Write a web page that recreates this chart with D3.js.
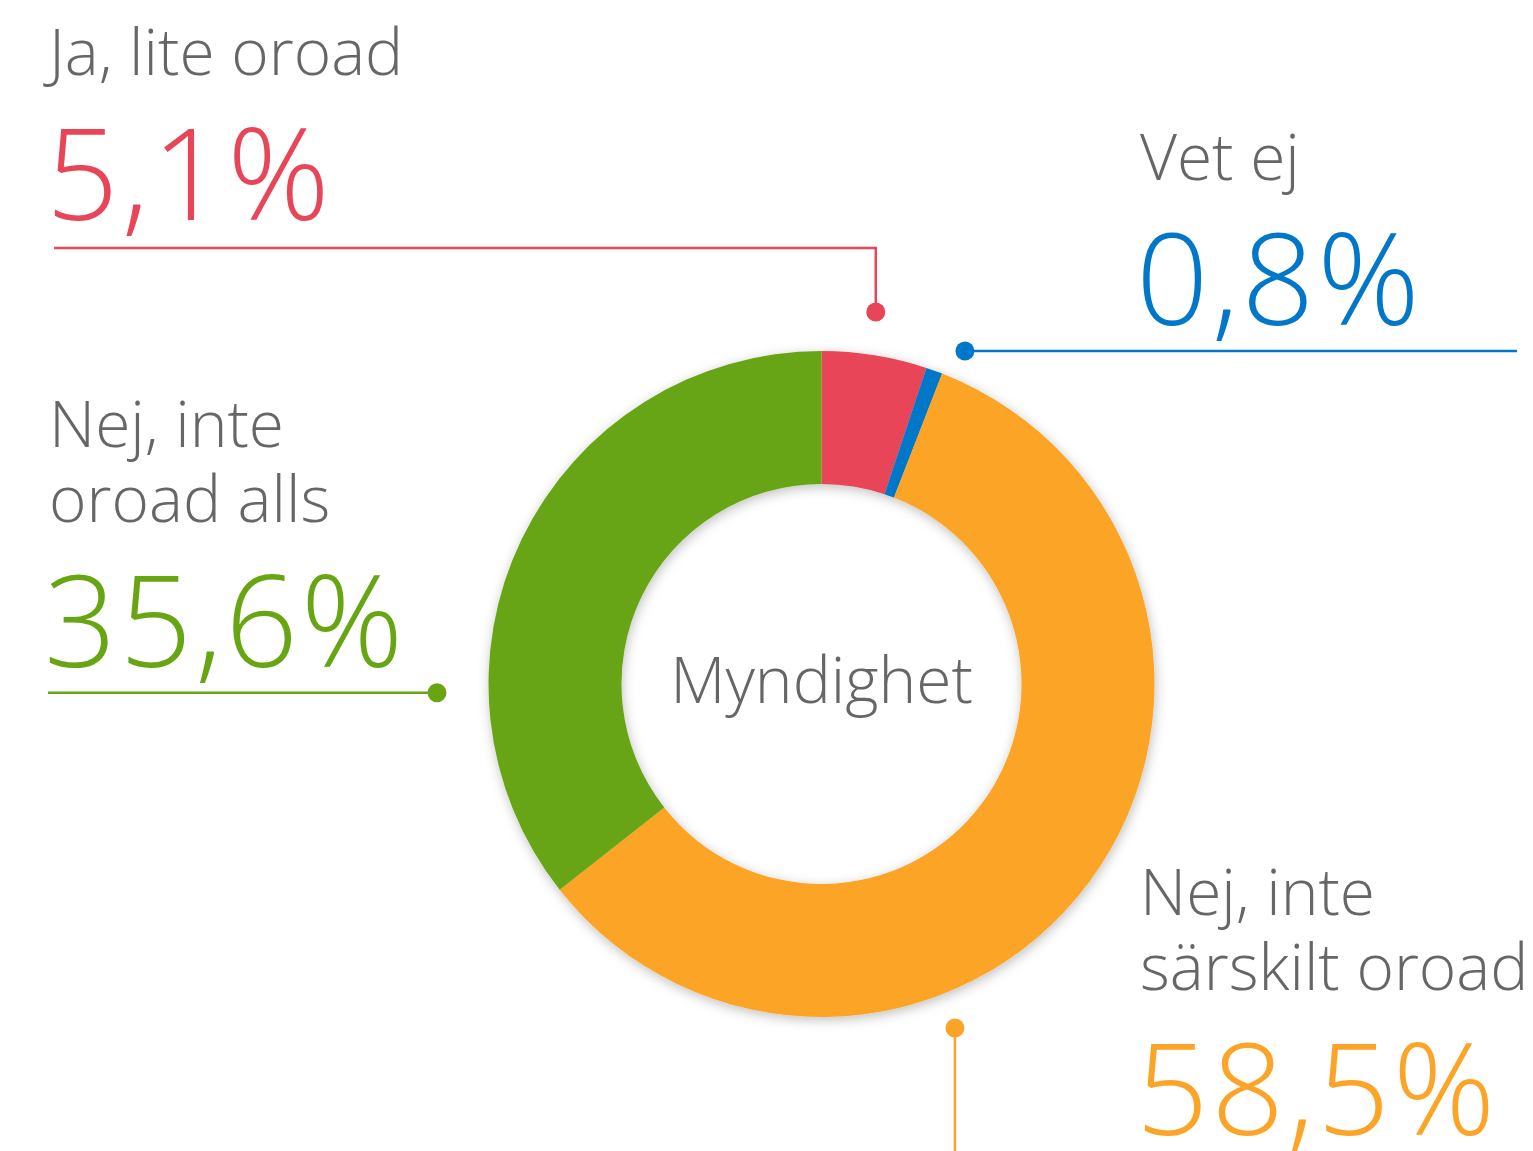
<!DOCTYPE html>
<html lang="sv">
<head>
  <meta charset="UTF-8">
  <title>Myndighet</title>
  <style>
    html, body { margin: 0; padding: 0; background: #fff; }
    svg { display: block; font-family: "Open Sans", sans-serif; font-weight: 300; }
  </style>
</head>
<body>
<svg width="1533" height="1151"></svg>

<script src="https://cdn.jsdelivr.net/npm/d3@7"></script>
<script>
  // data
  var categories = ['Ja, lite oroad', 'Vet ej', 'Nej, inte särskilt oroad', 'Nej, inte oroad alls'];
  var values = [5.1, 0.8, 58.5, 35.6];
  var labelLines = [['Ja, lite oroad'], ['Vet ej'], ['Nej, inte', 'särskilt oroad'], ['Nej, inte', 'oroad alls']];
  var colors = ['#e84558', '#0077c8', '#fca427', '#68a512'];
  var centerLabel = 'Myndighet';

  var svg = d3.select('svg'), width = +svg.attr('width'), height = +svg.attr('height');
  var cx = 821.5, cy = 684, outerR = 333, innerR = 200;

  var defs = svg.append('defs');
  var f = defs.append('filter').attr('id', 'shadow').attr('x', '-20%').attr('y', '-20%').attr('width', '140%').attr('height', '140%');
  f.append('feDropShadow').attr('dx', 1).attr('dy', 3).attr('stdDeviation', 6)
    .attr('flood-color', '#000').attr('flood-opacity', 0.25);

  var fmt = function (v) { return d3.format('.1f')(v).replace('.', ',') + '%'; };

  var pie = d3.pie().sort(null).value(function (d) { return d; });
  var arc_generator = d3.arc().innerRadius(innerR).outerRadius(outerR);
  var pieData = pie(values);

  var g = svg.append('g').attr('transform', `translate(${cx}, ${cy})`);
  g.append('g').attr('filter', 'url(#shadow)')
    .selectAll('path').data(pieData).enter().append('path')
    .attr('d', arc_generator)
    .attr('fill', function (d, i) { return colors[i]; });

  g.append('text').attr('text-anchor', 'middle').attr('y', 19)
    .attr('font-size', 64).attr('fill', '#666').text(centerLabel);

  // annotation layout (position of label blocks and leader lines)
  var layout = [
    {x: 49, y: 75, vx: 46, vy: 220, dotAngle: 8.3, dotR: 376, line: 'elbow', lineY: 248, lineX0: 54},
    {x: 1140, y: 180, vx: 1136, vy: 325, dotAngle: 23.3, dotR: 362.6, line: 'right', lineX1: 1517},
    {x: 1140, y: 915, vx: 1136, vy: 1135, dotAngle: 158.8, dotR: 369, line: 'down', lineY1: 1151},
    {x: 49, y: 447, vx: 44, vy: 667, dotAngle: 268.7, dotR: 384.6, line: 'left', lineX0: 48}
  ];

  var ann = svg.append('g');
  layout.forEach(function (L, i) {
    var p = d3.pointRadial(L.dotAngle * Math.PI / 180, L.dotR);
    var dx = cx + p[0], dy = cy + p[1];
    var col = colors[i];
    var t = ann.append('text').attr('x', L.x).attr('y', L.y).attr('font-size', 64).attr('fill', '#666');
    labelLines[i].forEach(function (s, k) {
      t.append('tspan').attr('x', L.x).attr('dy', k === 0 ? 0 : 75).text(s);
    });
    ann.append('text').attr('x', L.vx).attr('y', L.vy).attr('font-size', 127)
      .attr('letter-spacing', 3).attr('fill', col).text(fmt(values[i]));

    var pts;
    if (L.line === 'elbow') pts = [[L.lineX0, L.lineY], [dx, L.lineY], [dx, dy]];
    else if (L.line === 'right') pts = [[dx, dy], [L.lineX1, dy]];
    else if (L.line === 'left') pts = [[L.lineX0, dy], [dx, dy]];
    else pts = [[dx, dy], [dx, L.lineY1]];
    ann.append('path').attr('d', d3.line()(pts)).attr('fill', 'none')
      .attr('stroke', col).attr('stroke-width', 2.5);
    ann.append('circle').attr('cx', dx).attr('cy', dy).attr('r', 9.5).attr('fill', col);
  });
</script>
</body>
</html>
